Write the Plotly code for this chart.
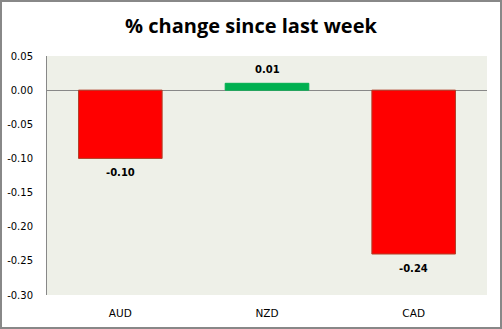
import plotly.graph_objects as go

categories = ["AUD", "NZD", "CAD"]
values = [-0.10, 0.01, -0.24]
bar_colors = ["#FF0000", "#00B050", "#FF0000"]
edge_colors = ["#B0402A", "#00B050", "#B0402A"]
y_ticks = [0.05, 0.0, -0.05, -0.10, -0.15, -0.20, -0.25, -0.30]
y_tick_labels = ["0.05", "0.00", "-0.05", "-0.10", "-0.15", "-0.20", "-0.25", "-0.30"]
title_text = "% change since last week"

W, H = 502, 329
ml, mr, mt, mb = 47, 15, 56, 34
pw, ph = W - ml - mr, H - mt - mb

fig = go.Figure(
    go.Bar(
        x=categories,
        y=values,
        marker=dict(color=bar_colors, line=dict(color=edge_colors, width=1)),
        width=0.57,
        cliponaxis=False,
    )
)

annotations = [
    dict(
        x=c,
        y=v,
        xref="x",
        yref="y",
        text="<b>%.2f</b>" % v,
        showarrow=False,
        yshift=14 if v >= 0 else -14,
        font=dict(family="DejaVu Sans", size=10, color="#000000"),
    )
    for c, v in zip(categories, values)
]

fig.update_layout(
    width=W,
    height=H,
    margin=dict(l=ml, r=mr, t=mt, b=mb, pad=0, autoexpand=False),
    paper_bgcolor="#FFFFFF",
    plot_bgcolor="#EEF0E8",
    showlegend=False,
    annotations=annotations,
    title=dict(
        text="<b>" + title_text + "</b>",
        x=0.5,
        xanchor="center",
        y=1 - 26 / H,
        yanchor="middle",
        font=dict(family="Open Sans, Liberation Sans", size=20, color="#000000"),
    ),
    xaxis=dict(
        showline=False,
        showgrid=False,
        ticks="",
        automargin=False,
        ticklabelstandoff=10,
        tickfont=dict(family="DejaVu Sans", size=10.5, color="#000000"),
    ),
    yaxis=dict(
        range=[-0.30, 0.05],
        tickvals=y_ticks,
        ticktext=y_tick_labels,
        showgrid=False,
        showline=True,
        linecolor="#888888",
        linewidth=1,
        zeroline=True,
        zerolinecolor="#888888",
        zerolinewidth=1,
        ticks="",
        automargin=False,
        ticklabelstandoff=11,
        tickfont=dict(family="DejaVu Sans", size=10, color="#000000"),
    ),
    shapes=[
        dict(
            type="rect",
            xref="paper",
            yref="paper",
            x0=(1 - ml) / pw,
            x1=(W - 1 - ml) / pw,
            y0=-(mb - 1) / ph,
            y1=1 + (mt - 1) / ph,
            line=dict(color="#888888", width=2),
            fillcolor="rgba(0,0,0,0)",
            layer="above",
        )
    ],
)

fig.write_html("out.html")
